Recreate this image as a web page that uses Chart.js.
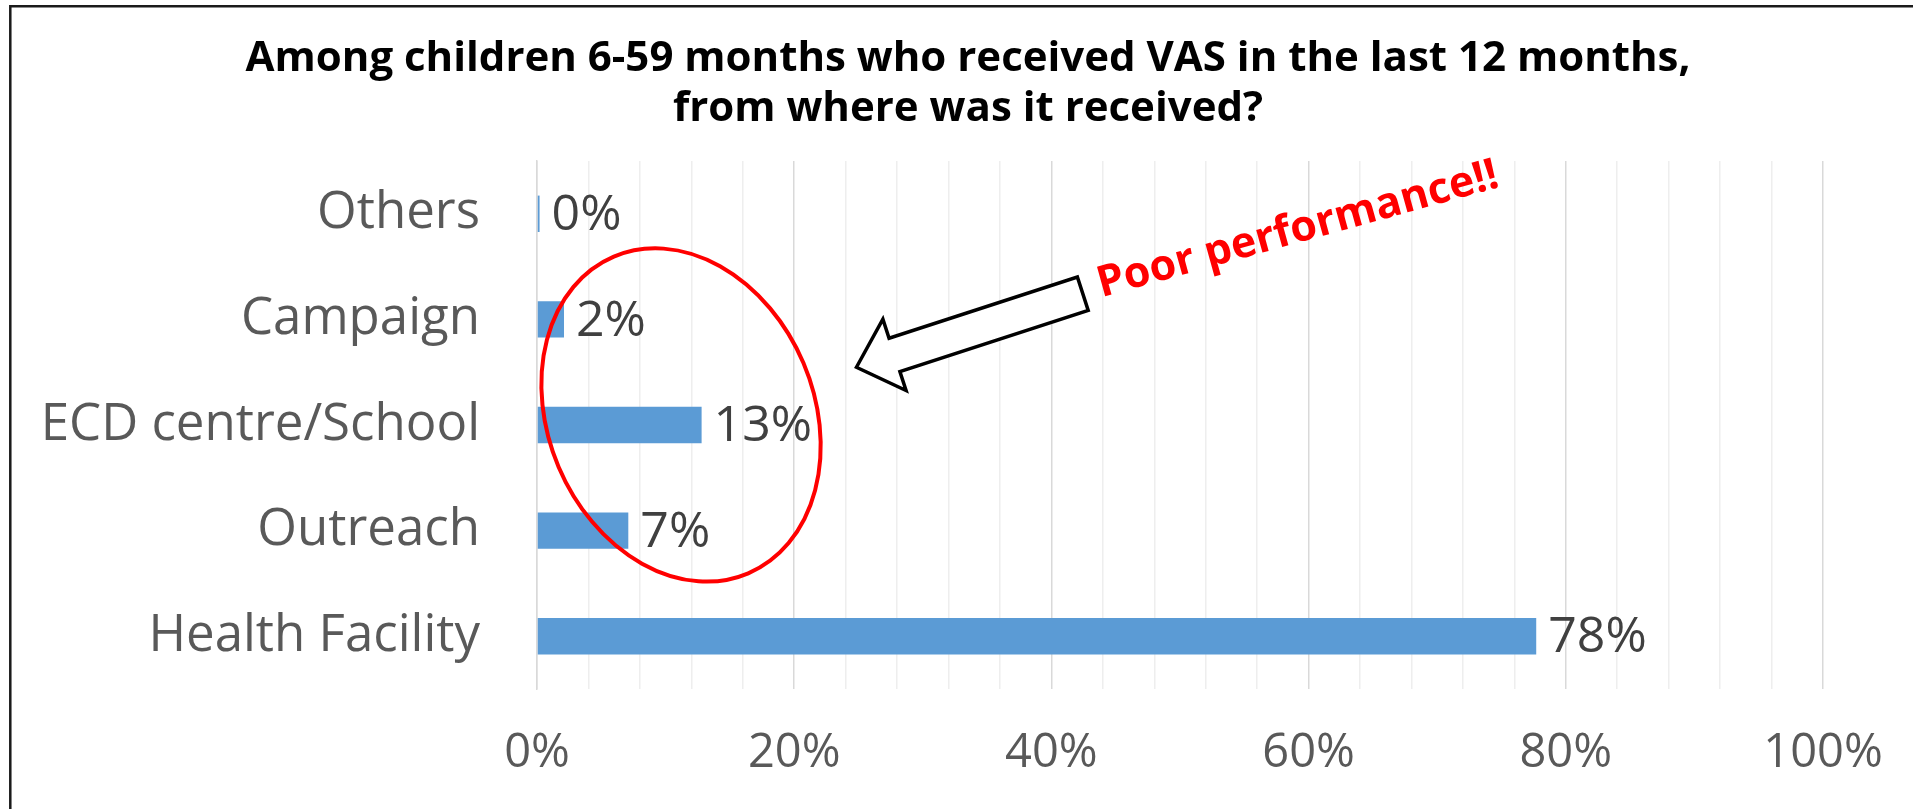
<!DOCTYPE html>
<html>
<head>
<meta charset="utf-8">
<script src="https://cdn.jsdelivr.net/npm/chart.js@4.4.0/dist/chart.umd.min.js"></script>
<style>
  html, body { margin: 0; padding: 0; background: #fff; }
  #wrap { position: relative; width: 1913px; height: 809px; }
</style>
</head>
<body>
<div id="wrap"><canvas id="vasChart"></canvas></div>
<script>
var titleLines = ['Among children 6-59 months who received VAS in the last 12 months,', 'from where was it received?'];
var categories = ['Others', 'Campaign', 'ECD centre/School', 'Outreach', 'Health Facility'];
var shares = [0.2, 2.1, 12.8, 7.1, 77.7];
var tickLabels = ['0%', '20%', '40%', '60%', '80%', '100%'];
var calloutText = 'Poor performance!!';

var FONT = '"Open Sans", "DejaVu Sans", sans-serif';

// white page + the black frame at the top and left edge
var framePlugin = {
  id: 'frame',
  beforeDraw: function(chart) {
    var ctx = chart.ctx;
    ctx.save();
    ctx.fillStyle = '#ffffff';
    ctx.fillRect(0, 0, chart.width, chart.height);
    ctx.strokeStyle = '#1a1a1a';
    ctx.lineWidth = 2.5;
    ctx.beginPath();
    ctx.moveTo(10.3, chart.height + 5);
    ctx.lineTo(10.3, 6.2);
    ctx.lineTo(chart.width + 5, 6.2);
    ctx.stroke();
    ctx.restore();
  }
};

// the title is centred on the whole slide, not on the plot, so it is drawn here
var titlePlugin = {
  id: 'slideTitle',
  afterDraw: function(chart) {
    var ctx = chart.ctx;
    ctx.save();
    ctx.font = 'bold 42px ' + FONT;
    ctx.fillStyle = '#000000';
    ctx.textAlign = 'center';
    ctx.textBaseline = 'alphabetic';
    titleLines.forEach(function(line, i) {
      ctx.fillText(line, 968, 71 + i * 50);
    });
    ctx.restore();
  }
};

// percentage text at the end of every bar
var valueLabels = {
  id: 'valueLabels',
  afterDatasetsDraw: function(chart) {
    var ctx = chart.ctx;
    var meta = chart.getDatasetMeta(0);
    ctx.save();
    ctx.font = '50px ' + FONT;
    ctx.fillStyle = '#404040';
    ctx.textAlign = 'left';
    ctx.textBaseline = 'middle';
    meta.data.forEach(function(bar, i) {
      ctx.fillText(Math.round(shares[i]) + '%', bar.x + 12, bar.y + 2);
    });
    ctx.restore();
  }
};

// red ellipse, hollow arrow and the rotated remark
var callout = {
  id: 'callout',
  afterDraw: function(chart) {
    var sx = chart.scales.x, sy = chart.scales.y, ctx = chart.ctx;
    ctx.save();

    var cx = sx.getPixelForValue(11.2), cy = sy.getPixelForValue(1.905);
    ctx.beginPath();
    ctx.ellipse(cx, cy, 133, 172, -23 * Math.PI / 180, 0, 2 * Math.PI);
    ctx.strokeStyle = '#ff0000';
    ctx.lineWidth = 4;
    ctx.stroke();

    var tx = sx.getPixelForValue(24.84), ty = sy.getPixelForValue(1.453);
    ctx.translate(tx, ty);
    ctx.rotate(-18 * Math.PI / 180);
    ctx.beginPath();
    ctx.moveTo(0, 0);
    ctx.lineTo(40, -37.5);
    ctx.lineTo(40, -17.5);
    ctx.lineTo(238, -17.5);
    ctx.lineTo(238, 17.5);
    ctx.lineTo(40, 17.5);
    ctx.lineTo(40, 37.5);
    ctx.closePath();
    ctx.fillStyle = '#ffffff';
    ctx.fill();
    ctx.strokeStyle = '#000000';
    ctx.lineWidth = 3.5;
    ctx.lineJoin = 'miter';
    ctx.stroke();
    ctx.setTransform(1, 0, 0, 1, 0, 0);

    var px = sx.getPixelForValue(43.9), py = sy.getPixelForValue(0.79);
    ctx.translate(px, py);
    ctx.rotate(-15.5 * Math.PI / 180);
    ctx.font = 'bold 43px ' + FONT;
    ctx.fillStyle = '#ff0000';
    ctx.textAlign = 'left';
    ctx.textBaseline = 'alphabetic';
    ctx.fillText(calloutText, 0, 0);
    ctx.restore();
  }
};

var ctx = document.getElementById('vasChart').getContext('2d');
var vasChart = new Chart(ctx, {
  type: 'bar',
  data: {
    labels: categories,
    datasets: [{
      data: shares,
      backgroundColor: '#5B9BD5',
      barPercentage: 0.345,
      categoryPercentage: 1
    }]
  },
  options: {
    indexAxis: 'y',
    responsive: true,
    maintainAspectRatio: false,
    animation: false,
    layout: { padding: { left: 0, right: 90, top: 161, bottom: 0 } },
    plugins: {
      legend: { display: false },
      tooltip: { enabled: false },
      title: { display: false }
    },
    scales: {
      x: {
        min: 0,
        max: 100,
        grid: {
          color: function(c) {
            return c.tick && c.tick.value % 20 === 0 ? '#d9d9d9' : '#eeeeee';
          },
          lineWidth: 1.5,
          drawTicks: false
        },
        border: { display: false },
        ticks: {
          stepSize: 4,
          autoSkip: false,
          maxRotation: 0,
          padding: 36,
          color: '#595959',
          font: { family: FONT, size: 47 },
          callback: function(v) { return v % 20 === 0 ? tickLabels[v / 20] : ''; }
        },
        afterFit: function(s) {
          s.height = 120;
          // the 100% label may overhang, the layout padding already leaves room
          s.paddingLeft = 0;
          s.paddingRight = 0;
        }
      },
      y: {
        grid: { display: false, drawTicks: false },
        border: { display: true, color: '#d9d9d9', width: 1.5 },
        ticks: {
          color: '#595959',
          padding: 57,
          font: { family: FONT, size: 51 }
        },
        afterFit: function(s) { s.width = 537; }
      }
    }
  },
  plugins: [framePlugin, titlePlugin, valueLabels, callout]
});
</script>
</body>
</html>
